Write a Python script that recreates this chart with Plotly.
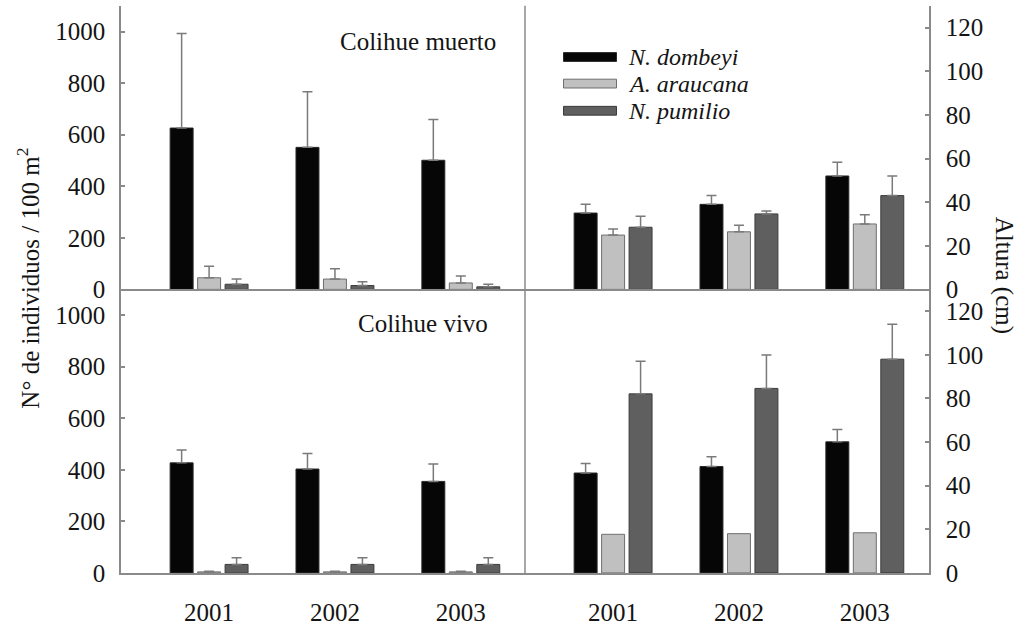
import plotly.graph_objects as go

# ---------------- data ----------------
years = [2001, 2002, 2003]
year_labels = ["2001", "2002", "2003"]
species = ["N. dombeyi", "A. araucana", "N. pumilio"]

# Colihue muerto - density (individuos / 100 m2)
muerto_dens_nd = [626, 551, 501]
muerto_dens_nd_err = [367, 216, 158]
muerto_dens_aa = [45, 40, 25]
muerto_dens_aa_err = [45, 40, 27]
muerto_dens_np = [20, 15, 10]
muerto_dens_np_err = [20, 15, 10]

# Colihue muerto - height (cm)
muerto_alt_nd = [35, 39, 52]
muerto_alt_nd_err = [4, 4, 6.3]
muerto_alt_aa = [24.9, 26.4, 30]
muerto_alt_aa_err = [2.8, 3, 4.2]
muerto_alt_np = [28.5, 34.6, 43]
muerto_alt_np_err = [5, 1.4, 9]

# Colihue vivo - density
vivo_dens_nd = [427, 403, 355]
vivo_dens_nd_err = [50, 60, 68]
vivo_dens_aa = [4, 4, 4]
vivo_dens_aa_err = [2, 2, 2]
vivo_dens_np = [33, 33, 33]
vivo_dens_np_err = [26, 26, 26]

# Colihue vivo - height
vivo_alt_nd = [45.8, 48.8, 60.1]
vivo_alt_nd_err = [4.4, 4.5, 5.7]
vivo_alt_aa = [17.7, 18.0, 18.4]
vivo_alt_aa_err = [0, 0, 0]
vivo_alt_np = [82.1, 84.6, 98]
vivo_alt_np_err = [15, 15.3, 16]

dens_ticks = [0, 200, 400, 600, 800, 1000]
alt_ticks = [0, 20, 40, 60, 80, 100, 120]

colors = ["#060606", "#c0c0c0", "#5f5f5f"]
outlines = ["#2a2a2a", "#6e6e6e", "#3c3c3c"]
axcol = "#8a8a8a"
errcol = "#7a7a7a"
FONT = "Liberation Serif"
TXT = "#141414"

W, H = 1021, 627

def px(x):
    return x / W
def py(y):
    return 1 - y / H

fig = go.Figure()

panels = [
    ("x", "y", [muerto_dens_nd, muerto_dens_aa, muerto_dens_np],
     [muerto_dens_nd_err, muerto_dens_aa_err, muerto_dens_np_err]),
    ("x2", "y2", [muerto_alt_nd, muerto_alt_aa, muerto_alt_np],
     [muerto_alt_nd_err, muerto_alt_aa_err, muerto_alt_np_err]),
    ("x3", "y3", [vivo_dens_nd, vivo_dens_aa, vivo_dens_np],
     [vivo_dens_nd_err, vivo_dens_aa_err, vivo_dens_np_err]),
    ("x4", "y4", [vivo_alt_nd, vivo_alt_aa, vivo_alt_np],
     [vivo_alt_nd_err, vivo_alt_aa_err, vivo_alt_np_err]),
]

for xa, ya, vals, errs in panels:
    for i in range(3):
        has_err = any(e > 0 for e in errs[i])
        fig.add_trace(go.Bar(
            x=years, y=vals[i], name=species[i], xaxis=xa, yaxis=ya,
            marker=dict(color=colors[i], line=dict(color=outlines[i], width=1)),
            offsetgroup=str(i),
            error_y=dict(type="data", symmetric=False, array=errs[i],
                         arrayminus=[0] * 3, color=errcol, thickness=1.5,
                         width=5, visible=has_err),
            showlegend=False,
        ))

xl = [px(121), px(525)]
xr = [px(525), px(929)]
yt = [py(296), py(6)]
yb = [py(586), py(296)]

xcommon = dict(range=[2000.3, 2003.51], showgrid=False, zeroline=False,
               showline=True, linecolor=axcol, linewidth=1.5, ticks="",
               tickvals=years, ticktext=year_labels,
               tickfont=dict(family=FONT, size=25, color=TXT),
               ticklabelstandoff=16, fixedrange=True)
ycommon = dict(showgrid=False, zeroline=False, showline=True, linecolor=axcol,
               linewidth=1.5, ticks="inside", ticklen=4, tickcolor=axcol,
               tickwidth=1.5, tickfont=dict(family=FONT, size=25, color=TXT),
               fixedrange=True)

fig.update_layout(
    width=W, height=H,
    margin=dict(l=0, r=0, t=0, b=0),
    paper_bgcolor="white", plot_bgcolor="white",
    barmode="group", bargap=0.345, bargroupgap=0.164,
    showlegend=False,
    xaxis=dict(domain=xl, anchor="y", showticklabels=False, **xcommon),
    xaxis2=dict(domain=xr, anchor="y2", showticklabels=False, **xcommon),
    xaxis3=dict(domain=xl, anchor="y3", showticklabels=True, **xcommon),
    xaxis4=dict(domain=xr, anchor="y4", showticklabels=True, **xcommon),
    yaxis=dict(domain=yt, anchor="x", side="left", range=[0, 1100],
               tickvals=dens_ticks, ticklabelstandoff=9, **ycommon),
    yaxis2=dict(domain=yt, anchor="x2", side="right", range=[0, 130],
                tickvals=alt_ticks, ticklabelstandoff=10, **ycommon),
    yaxis3=dict(domain=yb, anchor="x3", side="left", range=[0, 1100],
                tickvals=dens_ticks, ticklabelstandoff=9, **ycommon),
    yaxis4=dict(domain=yb, anchor="x4", side="right", range=[0, 130],
                tickvals=alt_ticks, ticklabelstandoff=10, **ycommon),
)

# vertical separator line between left and right columns (left edge of right panels)
fig.add_shape(type="line", xref="paper", yref="paper",
              x0=px(525), x1=px(525), y0=py(586), y1=py(6),
              line=dict(color=axcol, width=1.5))

# custom legend (wide swatches)
leg_rows = [58.3, 85.5, 113.3]
for i, yy in enumerate(leg_rows):
    fig.add_shape(type="rect", xref="paper", yref="paper",
                  x0=px(563.5), x1=px(616.5), y0=py(yy + 4.5), y1=py(yy - 4.5),
                  fillcolor=colors[i], line=dict(color=outlines[i], width=1))
    fig.add_annotation(xref="paper", yref="paper", x=px(626), y=py(yy),
                       text="<i>" + species[i] + "</i>", showarrow=False,
                       xanchor="left", yanchor="middle",
                       font=dict(family=FONT, size=24, color=TXT))

# panel labels
fig.add_annotation(xref="paper", yref="paper", x=px(418), y=py(42),
                   text="Colihue muerto", showarrow=False,
                   xanchor="center", yanchor="middle",
                   font=dict(family=FONT, size=25, color=TXT))
fig.add_annotation(xref="paper", yref="paper", x=px(423), y=py(331),
                   text="Colihue vivo", showarrow=False,
                   xanchor="center", yanchor="middle",
                   font=dict(family=FONT, size=25, color=TXT))

# axis titles
fig.add_annotation(xref="paper", yref="paper", x=px(28), y=py(285),
                   text="N\u00b0 de individuos / 100 m<sup>2</sup>", showarrow=False,
                   textangle=-90, xanchor="center", yanchor="middle",
                   font=dict(family=FONT, size=25, color=TXT))
fig.add_annotation(xref="paper", yref="paper", x=px(1004), y=py(281),
                   text="Altura (cm)", showarrow=False,
                   textangle=90, xanchor="center", yanchor="middle",
                   font=dict(family=FONT, size=25, color=TXT))

fig.write_html(
    "out.html",
    config={"displayModeBar": False},
    post_script="document.body.style.margin='0';document.body.style.overflow='hidden';",
)
